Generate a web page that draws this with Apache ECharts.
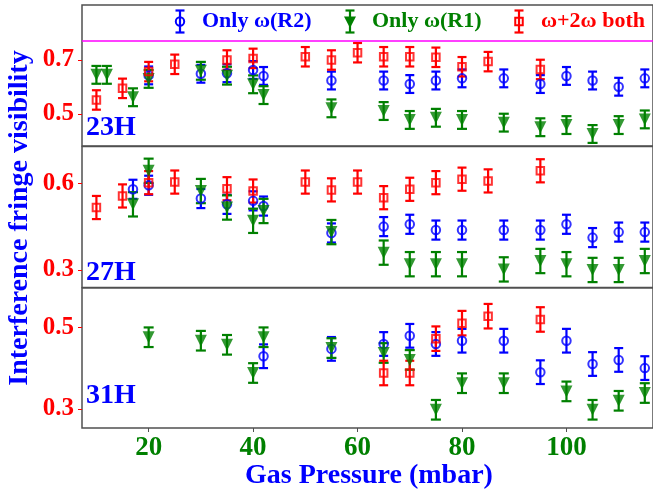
<!DOCTYPE html>
<html>
<head>
<meta charset="utf-8">
<script src="https://cdn.jsdelivr.net/npm/echarts@6/dist/echarts.min.js"></script>
<style>
  html, body { margin: 0; padding: 0; background: #ffffff; }
  #chart { width: 653px; height: 493px; }
</style>
</head>
<body>
<div id="chart"></div>
<script>
// Fringe visibility vs gas pressure for three harmonics (23H, 27H, 31H)
const panelNames = ['23H', '27H', '31H'];

// 23H
const h23_r2_x = [20, 30, 35, 40, 42, 55, 65, 70, 75, 80, 88, 95, 100, 105, 110, 115];
const h23_r2_y = [0.643, 0.649, 0.651, 0.663, 0.641, 0.624, 0.624, 0.611, 0.624, 0.632, 0.632, 0.611, 0.641, 0.624, 0.601, 0.632];
const h23_r1_x = [10, 12, 17, 20, 30, 35, 40, 42, 55, 65, 70, 75, 80, 88, 95, 100, 105, 110, 115];
const h23_r1_y = [0.645, 0.645, 0.562, 0.63, 0.66, 0.642, 0.61, 0.57, 0.521, 0.511, 0.478, 0.486, 0.478, 0.468, 0.451, 0.459, 0.426, 0.459, 0.48];
const h23_both_x = [10, 15, 20, 25, 35, 40, 50, 55, 60, 65, 70, 75, 80, 85, 95];
const h23_both_y = [0.552, 0.595, 0.657, 0.684, 0.70, 0.706, 0.712, 0.70, 0.727, 0.712, 0.712, 0.71, 0.675, 0.694, 0.665];

// 27H
const h27_r2_x = [17, 20, 30, 35, 40, 42, 55, 65, 70, 75, 80, 88, 95, 100, 105, 110, 115];
const h27_r2_y = [0.579, 0.593, 0.547, 0.527, 0.539, 0.521, 0.428, 0.45, 0.458, 0.438, 0.438, 0.438, 0.438, 0.458, 0.412, 0.431, 0.431];
const h27_r1_x = [17, 20, 30, 35, 40, 42, 55, 65, 70, 75, 80, 88, 95, 100, 105, 110, 115];
const h27_r1_y = [0.527, 0.643, 0.573, 0.516, 0.47, 0.504, 0.431, 0.36, 0.32, 0.32, 0.32, 0.302, 0.331, 0.32, 0.30, 0.30, 0.331];
const h27_both_x = [10, 15, 20, 25, 35, 40, 50, 55, 60, 65, 70, 75, 80, 85, 95];
const h27_both_y = [0.516, 0.556, 0.602, 0.604, 0.581, 0.573, 0.604, 0.577, 0.604, 0.55, 0.579, 0.602, 0.614, 0.608, 0.643];

// 31H
const h31_r2_x = [42, 55, 65, 70, 75, 80, 88, 95, 100, 105, 110, 115];
const h31_r2_y = [0.429, 0.447, 0.459, 0.479, 0.459, 0.467, 0.467, 0.39, 0.467, 0.41, 0.42, 0.40];
const h31_r1_x = [20, 30, 35, 40, 42, 55, 65, 70, 75, 80, 88, 100, 105, 110, 115];
const h31_r1_y = [0.4755, 0.467, 0.457, 0.388, 0.4755, 0.449, 0.437, 0.42, 0.298, 0.363, 0.363, 0.343, 0.298, 0.32, 0.339];
const h31_both_x = [65, 70, 75, 80, 85, 95];
const h31_both_y = [0.388, 0.388, 0.472, 0.51, 0.527, 0.519];

// Error bar half-widths (per panel, per series: R2, R1, both)
const errR2 = [0.033, 0.033, 0.029];
const errR1 = [0.033, 0.042, 0.024];
const errBoth = [0.036, 0.040, 0.030];

// Tick labels
const yTicks = [[0.5, 0.7], [0.3, 0.6], [0.3, 0.5]];
const xTicks = [20, 40, 60, 80, 100];
const cutoffLevel = 0.773; // magenta reference line in the 23H panel

const seriesNames = ['Only ω(R2)', 'Only ω(R1)', 'ω+2ω both'];
const colors = ['#0000ff', '#008000', '#ff0000'];

const panels = [
  { r2: [h23_r2_x, h23_r2_y], r1: [h23_r1_x, h23_r1_y], both: [h23_both_x, h23_both_y] },
  { r2: [h27_r2_x, h27_r2_y], r1: [h27_r1_x, h27_r1_y], both: [h27_both_x, h27_both_y] },
  { r2: [h31_r2_x, h31_r2_y], r1: [h31_r1_x, h31_r1_y], both: [h31_both_x, h31_both_y] }
];

const FONT = 'Liberation Serif, Times New Roman, serif';
const gridTops = [5, 146.5, 288];
const gridHeights = [141, 141, 140];
const yRanges = [[0.3815, 0.9037], [0.2394, 0.727], [0.2534, 0.596]];
const X_MIN = 7.24, X_MAX = 116.57;

const grids = gridTops.map((t, i) => ({
  left: 82, right: -3, top: t, height: gridHeights[i],
  show: true, borderColor: '#505050', borderWidth: 1.5, backgroundColor: '#ffffff'
}));

const xAxes = gridTops.map((t, i) => ({
  type: 'value', gridIndex: i, min: X_MIN, max: X_MAX,
  splitLine: { show: false }, axisLine: { show: false },
  axisTick: i === 2 ? { show: true, length: 4, customValues: xTicks, lineStyle: { color: '#505050', width: 1 } } : { show: false },
  axisLabel: i === 2 ? {
    show: true, customValues: xTicks, color: '#008000', fontFamily: FONT, fontWeight: 'bold',
    fontSize: 27, margin: 7
  } : { show: false }
}));

const yAxes = gridTops.map((t, i) => ({
  type: 'value', gridIndex: i, min: yRanges[i][0], max: yRanges[i][1],
  splitLine: { show: false }, axisLine: { show: false },
  axisTick: { show: true, length: 4, customValues: yTicks[i], lineStyle: { color: '#ff0000', width: 1 } },
  axisLabel: {
    show: true, customValues: yTicks[i], color: '#ff0000', fontFamily: FONT, fontWeight: 'bold',
    fontSize: 25, margin: 8, formatter: v => v.toFixed(1)
  }
}));

function errorBarSeries(xs, ys, err, gi, color, cap) {
  return {
    type: 'custom', xAxisIndex: gi, yAxisIndex: gi, silent: true, z: 2,
    data: xs.map((x, k) => [x, ys[k], err]),
    encode: { x: 0, y: 1 },
    renderItem: function (params, api) {
      const x = api.value(0), y = api.value(1), e = api.value(2);
      const top = api.coord([x, y + e]);
      const bot = api.coord([x, y - e]);
      const st = { stroke: color, lineWidth: 2.2, fill: null };
      return {
        type: 'group',
        children: [
          { type: 'line', shape: { x1: top[0], y1: top[1], x2: bot[0], y2: bot[1] }, style: st },
          { type: 'line', shape: { x1: top[0] - cap, y1: top[1], x2: top[0] + cap, y2: top[1] }, style: st },
          { type: 'line', shape: { x1: bot[0] - cap, y1: bot[1], x2: bot[0] + cap, y2: bot[1] }, style: st }
        ]
      };
    }
  };
}

const markerStyles = [
  { symbol: 'circle', symbolSize: 8.5, symbolRotate: 0, itemStyle: { color: 'rgba(0,0,0,0)', borderColor: '#0000ff', borderWidth: 2 } },
  { symbol: 'triangle', symbolSize: [12, 12], symbolRotate: 180, itemStyle: { color: '#008000', borderWidth: 0 } },
  { symbol: 'rect', symbolSize: 7.5, symbolRotate: 0, itemStyle: { color: 'rgba(0,0,0,0)', borderColor: '#ff0000', borderWidth: 2 } }
];
const caps = [4.5, 5, 4.5];

const series = [];
panels.forEach((p, gi) => {
  const sets = [p.r2, p.r1, p.both];
  const errs = [errR2[gi], errR1[gi], errBoth[gi]];
  sets.forEach((s, si) => {
    series.push(errorBarSeries(s[0], s[1], errs[si], gi, colors[si], caps[si]));
    const m = markerStyles[si];
    const sc = {
      type: 'scatter', name: seriesNames[si], xAxisIndex: gi, yAxisIndex: gi, z: 3,
      symbol: m.symbol, symbolSize: m.symbolSize, symbolRotate: m.symbolRotate,
      itemStyle: m.itemStyle, silent: true,
      data: s[0].map((x, k) => [x, s[1][k]])
    };
    if (gi === 0 && si === 0) {
      sc.markLine = {
        silent: true, symbol: 'none', label: { show: false },
        lineStyle: { color: '#ff00ff', width: 1.5, type: 'solid' },
        data: [{ yAxis: cutoffLevel }]
      };
    }
    series.push(sc);
  });
});

// Legend drawn as error-bar glyphs followed by coloured labels
const legendX = [180, 350, 519];
const legendY = 21.5;
const legendGraphics = [];
seriesNames.forEach((name, i) => {
  const c = colors[i];
  const st = { stroke: c, lineWidth: 2.2, fill: null };
  const x = legendX[i];
  const children = [
    { type: 'line', shape: { x1: x, y1: legendY - 11, x2: x, y2: legendY + 11 }, style: st },
    { type: 'line', shape: { x1: x - 4.5, y1: legendY - 11, x2: x + 4.5, y2: legendY - 11 }, style: st },
    { type: 'line', shape: { x1: x - 4.5, y1: legendY + 11, x2: x + 4.5, y2: legendY + 11 }, style: st }
  ];
  if (i === 0) children.push({ type: 'circle', shape: { cx: x, cy: legendY, r: 4.2 }, style: { stroke: c, lineWidth: 2, fill: null } });
  if (i === 1) children.push({ type: 'polygon', shape: { points: [[x - 6, legendY - 5], [x + 6, legendY - 5], [x, legendY + 6.5]] }, style: { fill: c } });
  if (i === 2) children.push({ type: 'rect', shape: { x: x - 3.75, y: legendY - 3.75, width: 7.5, height: 7.5 }, style: { stroke: c, lineWidth: 2, fill: null } });
  children.push({
    type: 'text', x: x + 22, y: legendY,
    style: { text: name, fill: c, font: 'bold 22px ' + FONT, textVerticalAlign: 'middle', textAlign: 'left' }
  });
  legendGraphics.push({ type: 'group', z: 10, children: children });
});

const panelLabelBase = [140, 285, 408];
const panelLabels = panelNames.map((n, i) => ({
  type: 'text', left: 86, top: panelLabelBase[i] - 26, z: 10,
  style: { text: n, fill: '#0000ff', font: 'bold 28px ' + FONT }
}));

const option = {
  animation: false,
  backgroundColor: '#ffffff',
  grid: grids,
  xAxis: xAxes,
  yAxis: yAxes,
  series: series,
  graphic: [
    ...legendGraphics,
    ...panelLabels,
    {
      type: 'text', x: 369, y: 476, z: 10,
      style: { text: 'Gas Pressure (mbar)', fill: '#0000ff', font: 'bold 28px ' + FONT, textAlign: 'center', textVerticalAlign: 'middle' }
    },
    {
      type: 'text', x: 20, y: 218, rotation: Math.PI / 2, z: 10,
      style: { text: 'Interference fringe visibility', fill: '#0000ff', font: 'bold 28px ' + FONT, textAlign: 'center', textVerticalAlign: 'middle' }
    }
  ]
};

const chart = echarts.init(document.getElementById('chart'), null, { renderer: 'canvas' });
chart.setOption(option);
</script>
</body>
</html>
